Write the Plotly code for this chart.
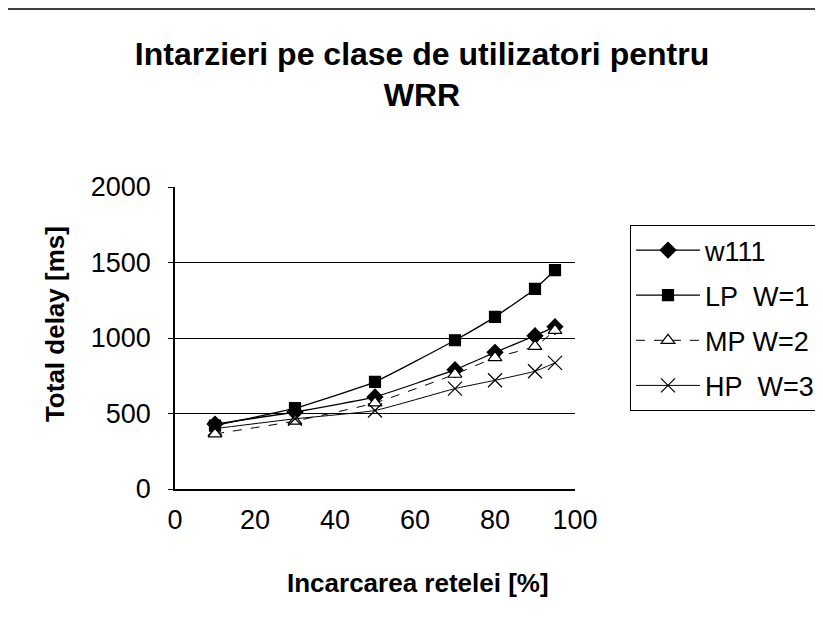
import plotly.graph_objects as go

load = [10, 30, 50, 70, 80, 90, 95]
w111 = [430, 510, 610, 790, 905, 1015, 1075]
lp_w1 = [420, 535, 710, 985, 1140, 1325, 1450]
mp_w2 = [365, 450, 570, 760, 870, 945, 1050]
hp_w3 = [400, 465, 520, 665, 720, 780, 835]

FONT = "Liberation Sans, Arial, sans-serif"
NB = "\u00a0"

def AddSeries(fig, y, name, symbol, size, dash='solid', fill='black', lw=1.3):
    fig.add_trace(go.Scatter(
        x=load, y=y, name=name, mode='lines+markers', legendgroup=name,
        line=dict(color='black', width=lw, dash=dash, shape='spline', smoothing=0.4),
        marker=dict(symbol=symbol, size=size, color=fill,
                    line=dict(color='black', width=1.2))))

fig = go.Figure()
AddSeries(fig, w111, 'w111', 'diamond', 12)
AddSeries(fig, lp_w1, f'LP{NB}{NB}W=1', 'square', 11)
AddSeries(fig, mp_w2, 'MP W=2', 'triangle-up', 12, dash='dash', fill='white', lw=1)
AddSeries(fig, hp_w3, f'HP{NB}{NB}W=3', 'x-thin', 14, lw=1)

# page body has an 8px margin, so the figure is a bit smaller than the window
fig.update_layout(
    width=815, height=616,
    margin=dict(l=167, r=248, t=179, b=135, autoexpand=False),
    paper_bgcolor='white', plot_bgcolor='white',
    font=dict(family=FONT, color='black', size=27),
    title=dict(text='<b>Intarzieri pe clase de utilizatori pentru<br>WRR</b>',
               x=0.508, xanchor='center', y=0.908, yanchor='top',
               font=dict(size=32, family=FONT)),
    xaxis=dict(range=[0, 100], tickvals=[0, 20, 40, 60, 80, 100],
               showline=True, linecolor='black', linewidth=1.5,
               showgrid=False, zeroline=False, ticks='', automargin=False,
               ticklabelstandoff=6, tickfont=dict(size=27)),
    yaxis=dict(range=[0, 2000], tickvals=[0, 500, 1000, 1500, 2000],
               showline=True, linecolor='black', linewidth=1.5,
               showgrid=True, gridcolor='black', gridwidth=1.2,
               zeroline=False, ticks='outside', ticklen=5, tickcolor='black',
               automargin=False, ticklabelstandoff=12, tickfont=dict(size=27)),
    legend=dict(x=1.1375, y=0.874, xanchor='left', yanchor='top',
                bordercolor='black', borderwidth=1, bgcolor='white',
                font=dict(size=27), tracegroupgap=7, itemwidth=64),
    showlegend=True,
)

# axis titles sit off-centre in the original, so place them as annotations
fig.add_annotation(text='<b>Incarcarea retelei [%]</b>', xref='paper', yref='paper',
                   x=0.6075, y=-0.311, showarrow=False, font=dict(size=26),
                   xanchor='center', yanchor='middle')
fig.add_annotation(text='<b>Total delay [ms]</b>', xref='paper', yref='paper',
                   x=-0.3, y=0.546, showarrow=False, font=dict(size=26),
                   textangle=-90, xanchor='center', yanchor='middle')

fig.add_shape(type='line', xref='paper', yref='paper', x0=-0.42, x1=1.62,
              y0=1.589, y1=1.589, line=dict(color='black', width=1.5))

fig.write_html("out.html")
